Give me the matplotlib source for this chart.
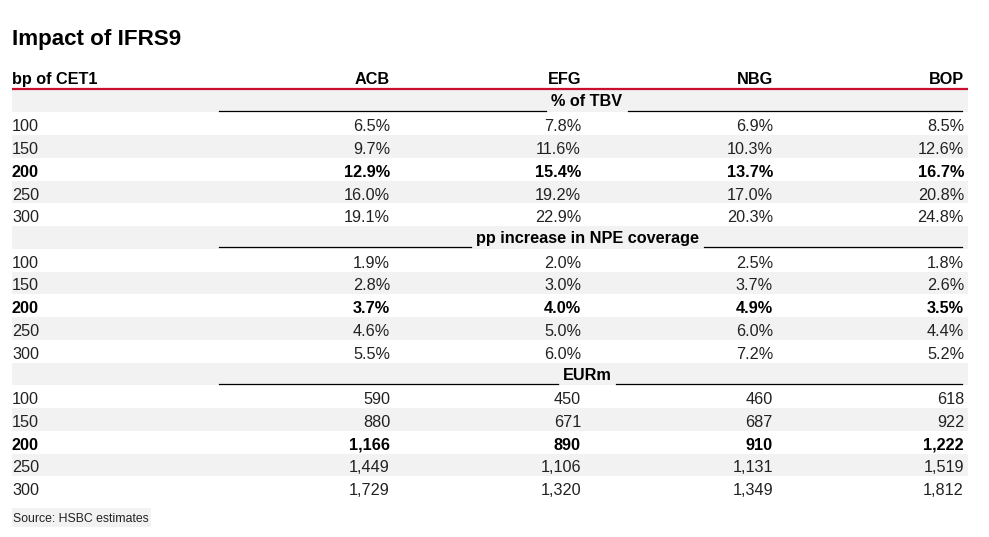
import matplotlib
matplotlib.use('Agg')
import matplotlib.pyplot as plt
from matplotlib.patches import Rectangle

# =========================================================
# data
# =========================================================
TITLE      = 'Impact of IFRS9'
ROW_LABEL  = 'bp of CET1'
SOURCE     = 'Source: HSBC estimates'
banks      = ['ACB', 'EFG', 'NBG', 'BOP']
bp_levels  = [100, 150, 200, 250, 300]
BOLD_BP    = 200

section_names = ['% of TBV', 'pp increase in NPE coverage', 'EURm']

# % of TBV, one list per bank
tbv_acb = [6.5, 9.7, 12.9, 16.0, 19.1]
tbv_efg = [7.8, 11.6, 15.4, 19.2, 22.9]
tbv_nbg = [6.9, 10.3, 13.7, 17.0, 20.3]
tbv_bop = [8.5, 12.6, 16.7, 20.8, 24.8]

# pp increase in NPE coverage
npe_acb = [1.9, 2.8, 3.7, 4.6, 5.5]
npe_efg = [2.0, 3.0, 4.0, 5.0, 6.0]
npe_nbg = [2.5, 3.7, 4.9, 6.0, 7.2]
npe_bop = [1.8, 2.6, 3.5, 4.4, 5.2]

# EURm
eur_acb = [590, 880, 1166, 1449, 1729]
eur_efg = [450, 671, 890, 1106, 1320]
eur_nbg = [460, 687, 910, 1131, 1349]
eur_bop = [618, 922, 1222, 1519, 1812]

sections = [
    ([tbv_acb, tbv_efg, tbv_nbg, tbv_bop], lambda v: f'{v:.1f}%'),
    ([npe_acb, npe_efg, npe_nbg, npe_bop], lambda v: f'{v:.1f}%'),
    ([eur_acb, eur_efg, eur_nbg, eur_bop], lambda v: f'{v:,}'),
]

# =========================================================
# layout (pixel coords, y down)
# =========================================================
W, H      = 989, 537
LEFT      = 12
RIGHT     = 968
COL_RIGHT = [390, 581, 773, 964]
LINE_X0   = 219
LINE_X1   = 962
SEC_CX    = 587
TOP0      = 89.5     # first grey band
PITCH     = 22.75
GREY      = '#f2f2f2'
RED       = '#c8102e'
TXT       = '#222222'
FONT      = 'Liberation Sans'
FS        = 11.7

plt.rcParams['font.family'] = [FONT, 'DejaVu Sans']

fig = plt.figure(figsize=(W / 100, H / 100), dpi=100)
ax = fig.add_axes([0, 0, 1, 1])
ax.set_xlim(0, W)
ax.set_ylim(H, 0)
ax.axis('off')

# title + column header
ax.text(LEFT, 45, TITLE, fontsize=16.1, fontweight='bold', color='black',
        va='baseline', ha='left')
ax.text(LEFT, 84, ROW_LABEL, fontsize=FS, fontweight='bold', color='black',
        va='baseline', ha='left')
for b, xr in zip(banks, COL_RIGHT):
    ax.text(xr, 84, b, fontsize=FS, fontweight='bold', color='black',
            va='baseline', ha='right')
ax.plot([LEFT, RIGHT], [88.5, 88.5], color=RED, lw=1.6, solid_capstyle='butt')

fig.canvas.draw()
renderer = fig.canvas.get_renderer()
inv = ax.transData.inverted()

row_idx = 0
for name, (cols, fmt) in zip(section_names, sections):
    # section header band
    top = TOP0 + row_idx * PITCH
    ax.add_patch(Rectangle((LEFT, top), RIGHT - LEFT, PITCH, color=GREY, lw=0))
    t = ax.text(SEC_CX, top + 17, name, fontsize=FS, fontweight='bold',
                color='black', va='baseline', ha='center')
    bb = t.get_window_extent(renderer)
    (x0, _), (x1, _) = inv.transform([[bb.x0, bb.y0], [bb.x1, bb.y1]])
    ly = top + 21
    ax.plot([LINE_X0, x0 - 5], [ly, ly], color='black', lw=0.9)
    ax.plot([x1 + 5, LINE_X1], [ly, ly], color='black', lw=0.9)
    row_idx += 1

    for i, bp in enumerate(bp_levels):
        top = TOP0 + row_idx * PITCH
        if i % 2 == 1:
            ax.add_patch(Rectangle((LEFT, top), RIGHT - LEFT, PITCH,
                                   color=GREY, lw=0))
        bold = bp == BOLD_BP
        kw = dict(fontsize=FS, va='baseline',
                  fontweight='bold' if bold else 'normal',
                  color='black' if bold else TXT)
        base = top + 19
        ax.text(LEFT, base, str(bp), ha='left', **kw)
        for vals, xr in zip(cols, COL_RIGHT):
            ax.text(xr, base, fmt(vals[i]), ha='right', **kw)
        row_idx += 1

# source with grey box
s = ax.text(LEFT + 1, 522, SOURCE, fontsize=8.8, color=TXT,
            va='baseline', ha='left')
bb = s.get_window_extent(renderer)
(sx0, sy0), (sx1, sy1) = inv.transform([[bb.x0, bb.y0], [bb.x1, bb.y1]])
ax.add_patch(Rectangle((LEFT, 508), sx1 + 2 - LEFT, 19, color=GREY, lw=0,
                       zorder=0))

fig.savefig('out.png', dpi=100)
